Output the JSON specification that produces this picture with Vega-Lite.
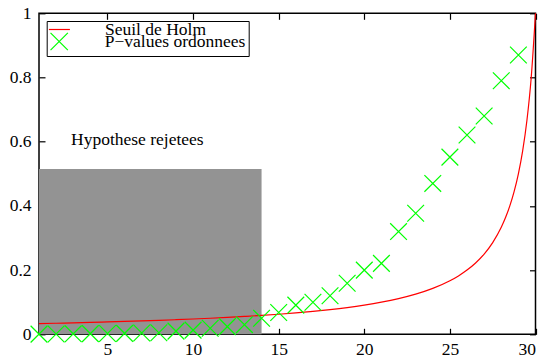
{
  "$schema": "https://vega.github.io/schema/vega-lite/v6.json",
  "autosize": "none",
  "width": 496.5,
  "height": 321,
  "padding": {"left": 39, "top": 13.3, "right": 11.5, "bottom": 21.7},
  "background": "white",
  "config": {
    "view": {"stroke": "black", "strokeWidth": 1.5},
    "font": "Liberation Serif",
    "axis": {
      "grid": false,
      "domain": false,
      "ticks": true,
      "tickColor": "#000000",
      "tickOpacity": 1,
      "tickSize": -6,
      "tickWidth": 1.2,
      "zindex": 1,
      "labelFont": "Liberation Serif",
      "labelFontSize": 17.5,
      "labelColor": "black",
      "title": null
    },
    "legend": {
      "labelFont": "Liberation Serif",
      "labelFontSize": 17.5,
      "labelColor": "black"
    }
  },
  "resolve": {"axis": {"x": "independent", "y": "independent"}},
  "datasets": {
    "holm": [
      {"rank": 1, "threshold": 0.0333, "series": "Seuil de Holm"},
      {"rank": 2, "threshold": 0.0345, "series": "Seuil de Holm"},
      {"rank": 3, "threshold": 0.0357, "series": "Seuil de Holm"},
      {"rank": 4, "threshold": 0.037, "series": "Seuil de Holm"},
      {"rank": 5, "threshold": 0.0385, "series": "Seuil de Holm"},
      {"rank": 6, "threshold": 0.04, "series": "Seuil de Holm"},
      {"rank": 7, "threshold": 0.0417, "series": "Seuil de Holm"},
      {"rank": 8, "threshold": 0.0435, "series": "Seuil de Holm"},
      {"rank": 9, "threshold": 0.0455, "series": "Seuil de Holm"},
      {"rank": 10, "threshold": 0.0476, "series": "Seuil de Holm"},
      {"rank": 11, "threshold": 0.05, "series": "Seuil de Holm"},
      {"rank": 12, "threshold": 0.0526, "series": "Seuil de Holm"},
      {"rank": 13, "threshold": 0.0556, "series": "Seuil de Holm"},
      {"rank": 14, "threshold": 0.0588, "series": "Seuil de Holm"},
      {"rank": 15, "threshold": 0.0625, "series": "Seuil de Holm"},
      {"rank": 16, "threshold": 0.0667, "series": "Seuil de Holm"},
      {"rank": 17, "threshold": 0.0714, "series": "Seuil de Holm"},
      {"rank": 18, "threshold": 0.0769, "series": "Seuil de Holm"},
      {"rank": 19, "threshold": 0.0833, "series": "Seuil de Holm"},
      {"rank": 20, "threshold": 0.0909, "series": "Seuil de Holm"},
      {"rank": 21, "threshold": 0.1, "series": "Seuil de Holm"},
      {"rank": 22, "threshold": 0.1111, "series": "Seuil de Holm"},
      {"rank": 23, "threshold": 0.125, "series": "Seuil de Holm"},
      {"rank": 24, "threshold": 0.1429, "series": "Seuil de Holm"},
      {"rank": 25, "threshold": 0.1667, "series": "Seuil de Holm"},
      {"rank": 25.5, "threshold": 0.1818, "series": "Seuil de Holm"},
      {"rank": 26, "threshold": 0.2, "series": "Seuil de Holm"},
      {"rank": 26.5, "threshold": 0.2222, "series": "Seuil de Holm"},
      {"rank": 27, "threshold": 0.25, "series": "Seuil de Holm"},
      {"rank": 27.5, "threshold": 0.2857, "series": "Seuil de Holm"},
      {"rank": 28, "threshold": 0.3333, "series": "Seuil de Holm"},
      {"rank": 28.25, "threshold": 0.3636, "series": "Seuil de Holm"},
      {"rank": 28.5, "threshold": 0.4, "series": "Seuil de Holm"},
      {"rank": 28.75, "threshold": 0.4444, "series": "Seuil de Holm"},
      {"rank": 29, "threshold": 0.5, "series": "Seuil de Holm"},
      {"rank": 29.25, "threshold": 0.5714, "series": "Seuil de Holm"},
      {"rank": 29.5, "threshold": 0.6667, "series": "Seuil de Holm"},
      {"rank": 29.75, "threshold": 0.8, "series": "Seuil de Holm"},
      {"rank": 30, "threshold": 1, "series": "Seuil de Holm"}
    ],
    "pvals": [
      {"rank": 1, "p": 0.0005, "series": "P−values ordonnees"},
      {"rank": 2, "p": 0.001, "series": "P−values ordonnees"},
      {"rank": 3, "p": 0.0015, "series": "P−values ordonnees"},
      {"rank": 4, "p": 0.002, "series": "P−values ordonnees"},
      {"rank": 5, "p": 0.0025, "series": "P−values ordonnees"},
      {"rank": 6, "p": 0.003, "series": "P−values ordonnees"},
      {"rank": 7, "p": 0.004, "series": "P−values ordonnees"},
      {"rank": 8, "p": 0.005, "series": "P−values ordonnees"},
      {"rank": 9, "p": 0.01, "series": "P−values ordonnees"},
      {"rank": 10, "p": 0.013, "series": "P−values ordonnees"},
      {"rank": 11, "p": 0.019, "series": "P−values ordonnees"},
      {"rank": 12, "p": 0.024, "series": "P−values ordonnees"},
      {"rank": 13, "p": 0.03, "series": "P−values ordonnees"},
      {"rank": 14, "p": 0.05, "series": "P−values ordonnees"},
      {"rank": 15, "p": 0.068, "series": "P−values ordonnees"},
      {"rank": 16, "p": 0.091, "series": "P−values ordonnees"},
      {"rank": 17, "p": 0.1, "series": "P−values ordonnees"},
      {"rank": 18, "p": 0.12, "series": "P−values ordonnees"},
      {"rank": 19, "p": 0.159, "series": "P−values ordonnees"},
      {"rank": 20, "p": 0.2, "series": "P−values ordonnees"},
      {"rank": 21, "p": 0.221, "series": "P−values ordonnees"},
      {"rank": 22, "p": 0.32, "series": "P−values ordonnees"},
      {"rank": 23, "p": 0.377, "series": "P−values ordonnees"},
      {"rank": 24, "p": 0.47, "series": "P−values ordonnees"},
      {"rank": 25, "p": 0.552, "series": "P−values ordonnees"},
      {"rank": 26, "p": 0.621, "series": "P−values ordonnees"},
      {"rank": 27, "p": 0.68, "series": "P−values ordonnees"},
      {"rank": 28, "p": 0.79, "series": "P−values ordonnees"},
      {"rank": 29, "p": 0.87, "series": "P−values ordonnees"}
    ]
  },
  "layer": [
    {
      "data": {"values": [{"first": 1, "last": 14, "bottom": 0, "top": 0.515}]},
      "mark": {"type": "rect", "color": "#939393"},
      "encoding": {
        "x": {"field": "first", "type": "quantitative", "scale": {"domain": [1, 30], "nice": false, "zero": false},
              "axis": {"values": [5, 10, 15, 20, 25, 30], "orient": "bottom", "labelPadding": 12, "ticks": true, "tickSize": -6, "tickColor": "#000000"}},
        "x2": {"field": "last"},
        "y": {"field": "bottom", "type": "quantitative", "scale": {"domain": [0, 1], "nice": false},
              "axis": {"values": [0, 0.2, 0.4, 0.6, 0.8, 1], "orient": "left", "labelPadding": 14, "ticks": true, "tickSize": -6, "tickColor": "#000000", "labelExpr": "datum.value === 0 ? '0' : datum.value === 1 ? '1' : format(datum.value, '.1f')"}},
        "y2": {"field": "top"}
      }
    },
    {
      "data": {"values": [{"label": "Hypothese rejetees", "rank": 2.87, "level": 0.59}]},
      "mark": {"type": "text", "align": "left", "baseline": "alphabetic", "font": "Liberation Serif", "fontSize": 17.5, "color": "black"},
      "encoding": {
        "x": {"field": "rank", "type": "quantitative", "axis": {"values": [5, 10, 15, 20, 25, 30], "orient": "top", "labels": false, "ticks": true, "tickSize": -6, "tickColor": "#000000"}},
        "y": {"field": "level", "type": "quantitative", "axis": {"values": [0, 0.2, 0.4, 0.6, 0.8, 1], "orient": "right", "labels": false, "ticks": true, "tickSize": -6, "tickColor": "#000000"}},
        "text": {"field": "label"}
      }
    },
    {
      "data": {"name": "holm"},
      "mark": {"type": "line", "strokeWidth": 1.2, "interpolate": "monotone"},
      "encoding": {
        "x": {"field": "rank", "type": "quantitative", "axis": null},
        "y": {"field": "threshold", "type": "quantitative", "axis": null},
        "stroke": {
          "field": "series", "type": "nominal",
          "scale": {"domain": ["Seuil de Holm"], "range": ["#ff0000"]},
          "legend": {
            "title": null,
            "orient": "none",
            "legendX": 8.9,
            "legendY": 4.7,
            "padding": 0,
            "labelFont": "Liberation Serif",
            "labelFontSize": 17.5,
            "labelLimit": 0,
            "labelColor": "black",
            "labelOffset": 34,
            "symbolType": "stroke",
            "symbolSize": 441,
            "symbolStrokeWidth": 1.2,
            "symbolStrokeColor": "#ff0000"
          }
        }
      }
    },
    {
      "data": {"name": "pvals"},
      "mark": {"type": "point", "shape": "M-1,-1L1,1M-1,1L1,-1", "size": 280, "filled": false, "strokeWidth": 1.2, "opacity": 1},
      "encoding": {
        "x": {"field": "rank", "type": "quantitative", "axis": null},
        "y": {"field": "p", "type": "quantitative", "axis": null},
        "color": {
          "field": "series", "type": "nominal",
          "scale": {"domain": ["P−values ordonnees"], "range": ["#00ff00"]},
          "legend": {
            "title": " ",
            "titleFontSize": 8,
            "titlePadding": 0,
            "orient": "none",
            "legendX": 7.7,
            "legendY": 7.7,
            "strokeColor": "black",
            "padding": 3,
            "labelFont": "Liberation Serif",
            "labelFontSize": 17.5,
            "labelLimit": 0,
            "labelColor": "black",
            "labelOffset": 36,
            "symbolSize": 300,
            "symbolStrokeWidth": 1.2
          }
        }
      }
    }
  ]
}
